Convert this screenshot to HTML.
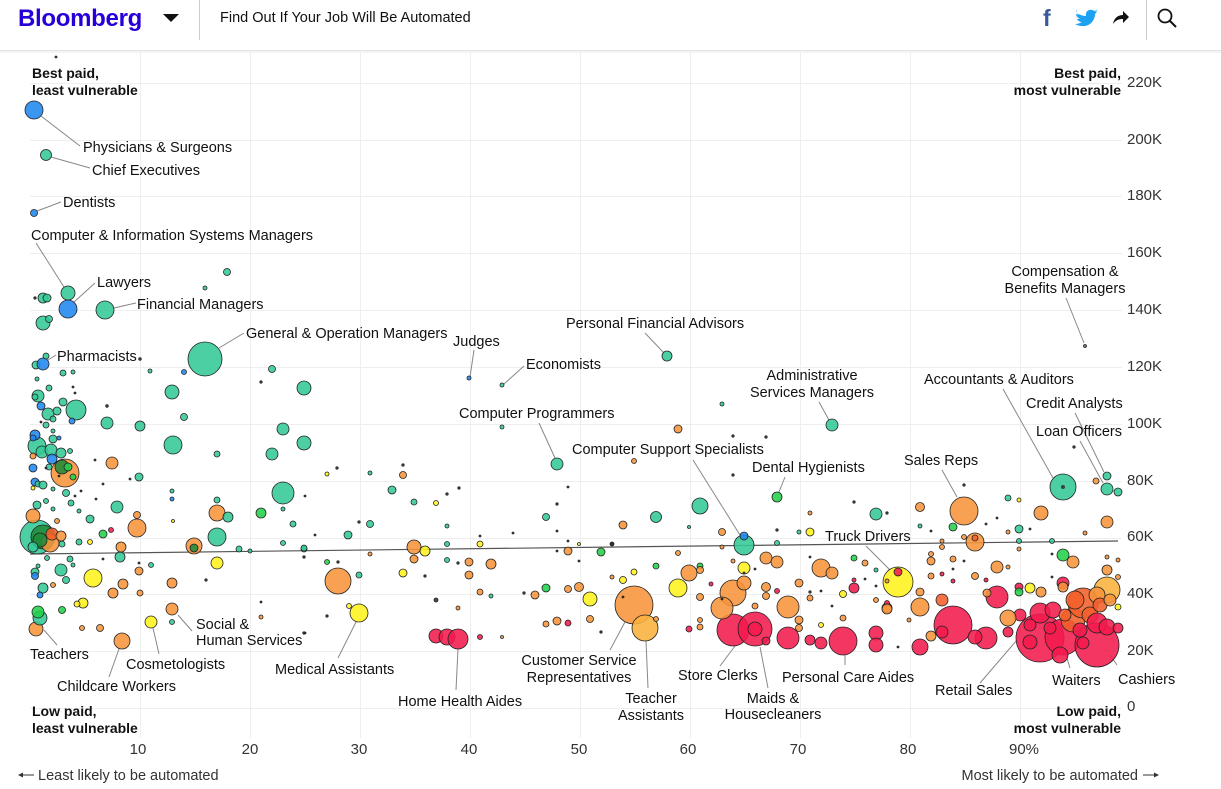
<!DOCTYPE html>
<html><head><meta charset="utf-8"><style>
html,body{margin:0;padding:0;background:#fff;width:1221px;height:789px;overflow:hidden;font-family:"Liberation Sans",sans-serif}
svg{position:absolute;left:0;top:0}
circle{stroke:#222;stroke-width:.8;fill-opacity:.88}
.t{fill:#33c996}.o{fill:#f7943a}.r{fill:#f21a4d}.y{fill:#fff21c}.g{fill:#22d04a}.b{fill:#1f87ee}.lo{fill:#fbb23c}.dg{fill:#1f8a3a}.ro{fill:#f2602a}
.d{fill:#333;stroke:none}
.lab{font-size:14.5px;fill:#111}
.bl{font-size:14px;font-weight:bold;fill:#111}
.ax{font-size:15px;fill:#333}
.ld{stroke:#888;stroke-width:1}
.gr{stroke:#eee;stroke-width:1}
</style></head><body>
<svg width="1221" height="789" viewBox="0 0 1221 789" xmlns="http://www.w3.org/2000/svg">
<!-- header -->
<text x="18" y="26" style="font-size:24px;font-weight:bold;fill:#2800d7;letter-spacing:-0.3px">Bloomberg</text>
<polygon points="163,14 179,14 171,22" fill="#111"/>
<line x1="199.5" y1="0" x2="199.5" y2="40" stroke="#ccc"/>
<text x="220" y="22" style="font-size:14.5px;fill:#111">Find Out If Your Job Will Be Automated</text>
<text x="1043" y="26" style="font-size:23px;font-weight:bold;fill:#3b5998">f</text>
<path d="M1077,13 c3,2 6,3 9,3 c-1,-5 4,-8 8,-5 c1,0 3,-1 4,-2 c-1,1 -1,2 -3,3 c1,0 2,0 3,-1 c-1,1 -2,2 -3,3 c0,7 -6,13 -13,12 c-3,0 -5,-1 -7,-2 c3,0 5,-1 7,-2 c-2,0 -4,-1 -5,-3 c1,0 2,0 3,0 c-2,-1 -4,-3 -4,-5 c1,0 2,1 3,1 c-2,-1 -3,-4 -2,-6z" fill="#1da1f2"/>
<path d="M1113,24 c1,-6 5,-9 10,-9 l0,-4 l6,6 l-6,6 l0,-4 c-4,0 -7,1 -10,5z" fill="#111"/>
<line x1="1146.5" y1="0" x2="1146.5" y2="40" stroke="#ccc"/>
<circle cx="1165" cy="16" r="6.5" style="fill:none;stroke:#111;stroke-width:1.8;fill-opacity:1"/>
<line x1="1170" y1="21" x2="1176" y2="27" stroke="#111" stroke-width="2"/>
<rect x="0" y="50" width="1221" height="1" fill="#e3e3e3"/>
<rect x="0" y="51" width="1221" height="2" fill="#f4f4f4"/>
<!-- grid -->
<g class="gr">
<line x1="140.5" y1="53" x2="140.5" y2="738"/><line x1="250.5" y1="53" x2="250.5" y2="738"/><line x1="360.5" y1="53" x2="360.5" y2="738"/><line x1="470.5" y1="53" x2="470.5" y2="738"/><line x1="580.5" y1="53" x2="580.5" y2="738"/><line x1="690.5" y1="53" x2="690.5" y2="738"/><line x1="800.5" y1="53" x2="800.5" y2="738"/><line x1="910.5" y1="53" x2="910.5" y2="738"/><line x1="1020.5" y1="53" x2="1020.5" y2="738"/>
<line x1="30" y1="83.5" x2="1122" y2="83.5"/><line x1="30" y1="140.5" x2="1122" y2="140.5"/><line x1="30" y1="196.5" x2="1122" y2="196.5"/><line x1="30" y1="253.5" x2="1122" y2="253.5"/><line x1="30" y1="310.5" x2="1122" y2="310.5"/><line x1="30" y1="367.5" x2="1122" y2="367.5"/><line x1="30" y1="424.5" x2="1122" y2="424.5"/><line x1="30" y1="481.5" x2="1122" y2="481.5"/><line x1="30" y1="538.5" x2="1122" y2="538.5"/><line x1="30" y1="594.5" x2="1122" y2="594.5"/><line x1="30" y1="651.5" x2="1122" y2="651.5"/><line x1="30" y1="708.5" x2="1122" y2="708.5"/>
</g>
<!-- axis labels -->
<g class="ax">
<text x="1127" y="87">220K</text><text x="1127" y="144">200K</text><text x="1127" y="200">180K</text><text x="1127" y="257">160K</text><text x="1127" y="314">140K</text><text x="1127" y="371">120K</text><text x="1127" y="428">100K</text><text x="1127" y="485">80K</text><text x="1127" y="541">60K</text><text x="1127" y="598">40K</text><text x="1127" y="655">20K</text><text x="1127" y="711">0</text>
</g>
<g class="ax" text-anchor="middle">
<text x="138" y="754">10</text><text x="250" y="754">20</text><text x="359" y="754">30</text><text x="469" y="754">40</text><text x="579" y="754">50</text><text x="688" y="754">60</text><text x="798" y="754">70</text><text x="908" y="754">80</text><text x="1024" y="754">90%</text>
</g>
<line x1="19" y1="775" x2="34" y2="775" stroke="#333"/><polygon points="18,775 23,772.5 23,777.5" fill="#333"/>
<text x="38" y="780" style="font-size:14.5px;fill:#333">Least likely to be automated</text>
<text x="1138" y="780" text-anchor="end" style="font-size:14.5px;fill:#333">Most likely to be automated</text>
<line x1="1143" y1="775" x2="1157" y2="775" stroke="#333"/><polygon points="1159,775 1154,772.5 1154,777.5" fill="#333"/>
<!-- corner labels -->
<g class="bl">
<text x="32" y="78">Best paid,</text><text x="32" y="95">least vulnerable</text>
<text x="1121" y="78" text-anchor="end">Best paid,</text><text x="1121" y="95" text-anchor="end">most vulnerable</text>
<text x="32" y="716">Low paid,</text><text x="32" y="733">least vulnerable</text>
<text x="1121" y="716" text-anchor="end">Low paid,</text><text x="1121" y="733" text-anchor="end">most vulnerable</text>
</g>
<!-- trend line -->
<line x1="30" y1="554" x2="1118" y2="541" stroke="#555" stroke-width="1.2"/>
<!-- leaders -->
<g class="ld">
<line x1="41" y1="116" x2="80" y2="146"/><line x1="51" y1="157" x2="90" y2="168"/><line x1="37" y1="211" x2="61" y2="202"/><line x1="36" y1="243" x2="64" y2="287"/><line x1="74" y1="302" x2="95" y2="283"/><line x1="114" y1="308" x2="136" y2="303"/><line x1="219" y1="348" x2="244" y2="333"/><line x1="48" y1="360" x2="56" y2="355"/><line x1="474" y1="350" x2="470" y2="377"/><line x1="504" y1="384" x2="524" y2="366"/><line x1="645" y1="333" x2="664" y2="353"/><line x1="819" y1="402" x2="829" y2="420"/><line x1="539" y1="423" x2="555" y2="458"/><line x1="693" y1="460" x2="740" y2="535"/><line x1="785" y1="477" x2="779" y2="492"/><line x1="1066" y1="298" x2="1084" y2="343"/><line x1="1003" y1="389" x2="1053" y2="478"/><line x1="1075" y1="413" x2="1104" y2="472"/><line x1="1080" y1="441" x2="1103" y2="483"/><line x1="942" y1="470" x2="957" y2="497"/><line x1="866" y1="546" x2="890" y2="570"/><line x1="44" y1="630" x2="57" y2="645"/><line x1="119" y1="649" x2="109" y2="677"/><line x1="153" y1="628" x2="159" y2="654"/><line x1="178" y1="615" x2="192" y2="631"/><line x1="356" y1="622" x2="338" y2="658"/><line x1="458" y1="649" x2="456" y2="690"/><line x1="625" y1="622" x2="610" y2="650"/><line x1="646" y1="641" x2="648" y2="688"/><line x1="735" y1="646" x2="720" y2="666"/><line x1="760" y1="647" x2="768" y2="688"/><line x1="845" y1="655" x2="845" y2="665"/><line x1="980" y1="683" x2="1017" y2="640"/><line x1="1070" y1="668" x2="1065" y2="652"/><line x1="1117" y1="665" x2="1110" y2="655"/>
</g>
<!-- bubbles: large first -->
<circle class="t" cx="205" cy="359" r="17"/>
<circle class="o" cx="634" cy="605" r="19"/>
<circle class="lo" cx="645" cy="628" r="13"/>
<circle class="r" cx="733" cy="630" r="16"/>
<circle class="r" cx="755" cy="629" r="17"/>
<circle class="r" cx="755" cy="629" r="7"/>
<circle class="r" cx="843" cy="641" r="14"/>
<circle class="r" cx="788" cy="638" r="11"/>
<circle class="y" cx="898" cy="582" r="15"/>
<circle class="r" cx="898" cy="572" r="4"/>
<circle class="o" cx="338" cy="581" r="13"/>
<circle class="y" cx="359" cy="613" r="9"/>
<circle class="o" cx="733" cy="593" r="13"/>
<circle class="o" cx="722" cy="608" r="11"/>
<circle class="o" cx="788" cy="607" r="11"/>
<circle class="o" cx="964" cy="511" r="14"/>
<circle class="t" cx="1063" cy="487" r="13"/>
<circle class="d" cx="1063" cy="487" r="2"/>
<circle class="t" cx="744" cy="545" r="10"/>
<circle class="b" cx="744" cy="536" r="4"/>
<circle class="o" cx="65" cy="473" r="14"/>
<circle class="dg" cx="62" cy="467" r="7"/>
<circle class="g" cx="68" cy="467" r="4"/>
<circle class="g" cx="73" cy="477" r="3"/>
<circle class="t" cx="37" cy="537" r="17"/>
<circle class="dg" cx="43" cy="537" r="12"/>
<circle class="o" cx="50" cy="543" r="9"/>
<circle class="ro" cx="52" cy="534" r="6"/>
<circle class="dg" cx="40" cy="540" r="7"/>
<circle class="o" cx="33" cy="516" r="7"/>
<circle class="o" cx="61" cy="536" r="5"/>
<circle class="t" cx="33" cy="547" r="5"/>
<circle class="t" cx="283" cy="493" r="11"/>
<circle class="t" cx="76" cy="410" r="10"/>
<!-- right cluster -->
<circle class="r" cx="953" cy="625" r="19"/>
<circle class="r" cx="997" cy="597" r="11"/>
<circle class="r" cx="986" cy="638" r="11"/>
<circle class="r" cx="975" cy="637" r="7"/>
<circle class="r" cx="1040" cy="638" r="24"/>
<circle class="r" cx="1063" cy="637" r="18"/>
<circle class="r" cx="1097" cy="645" r="22"/>
<circle class="r" cx="1030" cy="642" r="7"/>
<circle class="r" cx="1060" cy="655" r="8"/>
<circle class="r" cx="1083" cy="643" r="6"/>
<circle class="r" cx="1040" cy="613" r="10"/>
<circle class="r" cx="1053" cy="610" r="8"/>
<circle class="r" cx="1020" cy="615" r="6"/>
<circle class="r" cx="1030" cy="625" r="6"/>
<circle class="r" cx="1050" cy="628" r="6"/>
<circle class="ro" cx="1073" cy="620" r="12"/>
<circle class="lo" cx="1107" cy="590" r="13"/>
<circle class="ro" cx="1083" cy="603" r="15"/>
<circle class="o" cx="1097" cy="595" r="8"/>
<circle class="ro" cx="1075" cy="600" r="9"/>
<circle class="ro" cx="1090" cy="615" r="8"/>
<circle class="ro" cx="1100" cy="605" r="7"/>
<circle class="o" cx="1110" cy="600" r="6"/>
<circle class="r" cx="1080" cy="630" r="7"/>
<circle class="ro" cx="1065" cy="615" r="6"/>
<circle class="r" cx="1097" cy="623" r="10"/>
<circle class="r" cx="1107" cy="627" r="8"/>
<circle class="r" cx="1118" cy="628" r="5"/>
<circle class="y" cx="1118" cy="607" r="3"/>
<circle class="r" cx="942" cy="632" r="6"/>
<circle class="o" cx="931" cy="636" r="5"/>
<circle class="r" cx="920" cy="647" r="8"/>
<circle class="r" cx="1008" cy="632" r="5"/>
<circle class="o" cx="1008" cy="618" r="8"/>
<circle class="o" cx="987" cy="593" r="4"/>
<circle class="r" cx="1019" cy="587" r="4"/>
<circle class="g" cx="1019" cy="592" r="4"/>
<circle class="y" cx="1030" cy="588" r="5"/>
<circle class="o" cx="1041" cy="592" r="5"/>
<circle class="r" cx="1063" cy="583" r="6"/>
<circle class="o" cx="1063" cy="587" r="5"/>
<circle class="o" cx="920" cy="607" r="9"/>
<circle class="o" cx="920" cy="592" r="4"/>
<circle class="ro" cx="942" cy="600" r="6"/>
<circle class="o" cx="887" cy="608" r="5"/>
<circle class="r" cx="876" cy="633" r="7"/>
<circle class="r" cx="876" cy="645" r="7"/>
<!-- right middle -->
<circle class="o" cx="975" cy="542" r="9"/>
<circle class="ro" cx="975" cy="538" r="3"/>
<circle class="o" cx="1041" cy="513" r="7"/>
<circle class="o" cx="1107" cy="522" r="6"/>
<circle class="o" cx="920" cy="507" r="4.5"/>
<circle class="t" cx="1008" cy="498" r="3"/>
<circle class="y" cx="1019" cy="500" r="2"/>
<circle class="t" cx="1107" cy="476" r="4"/>
<circle class="t" cx="1107" cy="489" r="6"/>
<circle class="t" cx="1118" cy="492" r="4"/>
<circle class="o" cx="1096" cy="481" r="3"/>
<circle class="t" cx="920" cy="526" r="2"/>
<circle class="g" cx="953" cy="527" r="4"/>
<circle class="t" cx="1019" cy="529" r="4"/>
<circle class="o" cx="1008" cy="532" r="2"/>
<circle class="o" cx="1085" cy="533" r="2"/>
<circle class="o" cx="964" cy="537" r="2.5"/>
<circle class="o" cx="942" cy="541" r="2"/>
<circle class="o" cx="942" cy="547" r="2.5"/>
<circle class="t" cx="1019" cy="541" r="2.5"/>
<circle class="t" cx="1052" cy="541" r="2.5"/>
<circle class="o" cx="1019" cy="549" r="2"/>
<circle class="g" cx="1063" cy="555" r="6"/>
<circle class="o" cx="1073" cy="562" r="6"/>
<circle class="o" cx="1107" cy="557" r="2"/>
<circle class="o" cx="1118" cy="560" r="2"/>
<circle class="o" cx="931" cy="554" r="2.5"/>
<circle class="o" cx="931" cy="561" r="4"/>
<circle class="o" cx="953" cy="559" r="3"/>
<circle class="o" cx="997" cy="567" r="6"/>
<circle class="o" cx="1008" cy="567" r="2"/>
<circle class="o" cx="1107" cy="570" r="5"/>
<circle class="o" cx="1118" cy="577" r="2.5"/>
<circle class="o" cx="887" cy="581" r="2"/>
<circle class="o" cx="931" cy="576" r="3"/>
<circle class="r" cx="942" cy="574" r="2"/>
<circle class="r" cx="953" cy="581" r="2"/>
<circle class="o" cx="975" cy="576" r="3.5"/>
<circle class="r" cx="986" cy="580" r="2"/>
<circle class="o" cx="909" cy="620" r="2"/>
<!-- middle right -->
<circle class="t" cx="832" cy="425" r="6"/>
<circle class="t" cx="667" cy="356" r="5"/>
<circle class="t" cx="722" cy="404" r="2"/>
<circle class="o" cx="678" cy="429" r="4"/>
<circle class="o" cx="634" cy="461" r="2.5"/>
<circle class="g" cx="777" cy="497" r="5"/>
<circle class="t" cx="700" cy="506" r="8"/>
<circle class="t" cx="656" cy="517" r="5.5"/>
<circle class="o" cx="623" cy="525" r="4"/>
<circle class="t" cx="689" cy="527" r="1.5"/>
<circle class="o" cx="722" cy="532" r="3.5"/>
<circle class="t" cx="777" cy="543" r="2.5"/>
<circle class="t" cx="799" cy="532" r="2"/>
<circle class="y" cx="810" cy="532" r="4"/>
<circle class="o" cx="810" cy="513" r="2"/>
<circle class="t" cx="876" cy="514" r="6"/>
<circle class="o" cx="722" cy="547" r="2"/>
<circle class="o" cx="733" cy="561" r="2"/>
<circle class="o" cx="766" cy="558" r="6"/>
<circle class="o" cx="777" cy="562" r="6"/>
<circle class="y" cx="744" cy="568" r="6"/>
<circle class="o" cx="821" cy="568" r="9"/>
<circle class="o" cx="832" cy="573" r="6"/>
<circle class="g" cx="854" cy="558" r="3"/>
<circle class="o" cx="865" cy="563" r="3"/>
<circle class="t" cx="876" cy="570" r="2"/>
<circle class="o" cx="689" cy="573" r="8"/>
<circle class="g" cx="700" cy="566" r="3"/>
<circle class="o" cx="700" cy="570" r="3.5"/>
<circle class="o" cx="678" cy="553" r="2.5"/>
<circle class="g" cx="656" cy="566" r="3"/>
<circle class="y" cx="634" cy="572" r="3"/>
<circle class="y" cx="623" cy="580" r="3.5"/>
<circle class="o" cx="612" cy="577" r="2"/>
<circle class="y" cx="678" cy="588" r="9"/>
<circle class="o" cx="656" cy="619" r="2.5"/>
<circle class="r" cx="689" cy="629" r="3"/>
<circle class="o" cx="700" cy="620" r="2.5"/>
<circle class="o" cx="700" cy="627" r="3"/>
<circle class="o" cx="700" cy="597" r="3.5"/>
<circle class="r" cx="711" cy="584" r="2"/>
<circle class="o" cx="744" cy="583" r="7"/>
<circle class="o" cx="766" cy="587" r="4.5"/>
<circle class="o" cx="766" cy="596" r="3.5"/>
<circle class="r" cx="777" cy="591" r="2.5"/>
<circle class="o" cx="755" cy="606" r="3"/>
<circle class="o" cx="799" cy="583" r="4"/>
<circle class="o" cx="799" cy="620" r="4"/>
<circle class="o" cx="799" cy="628" r="3.5"/>
<circle class="o" cx="810" cy="598" r="3"/>
<circle class="y" cx="821" cy="625" r="2.5"/>
<circle class="y" cx="843" cy="594" r="3.5"/>
<circle class="o" cx="843" cy="618" r="3"/>
<circle class="r" cx="854" cy="588" r="5"/>
<circle class="r" cx="854" cy="580" r="2"/>
<circle class="o" cx="876" cy="600" r="2.5"/>
<circle class="r" cx="887" cy="603" r="2.5"/>
<circle class="o" cx="887" cy="609" r="5"/>
<circle class="r" cx="766" cy="641" r="4"/>
<circle class="r" cx="810" cy="640" r="5"/>
<circle class="r" cx="821" cy="643" r="6"/>
<!-- middle -->
<circle class="t" cx="557" cy="464" r="6"/>
<circle class="t" cx="546" cy="517" r="3.5"/>
<circle class="o" cx="568" cy="551" r="4"/>
<circle class="y" cx="579" cy="544" r="1.5"/>
<circle class="g" cx="601" cy="552" r="4"/>
<circle class="o" cx="612" cy="544" r="2"/>
<circle class="g" cx="546" cy="588" r="4"/>
<circle class="o" cx="535" cy="595" r="4"/>
<circle class="o" cx="568" cy="589" r="3.5"/>
<circle class="o" cx="579" cy="587" r="4.5"/>
<circle class="y" cx="590" cy="599" r="7"/>
<circle class="o" cx="546" cy="624" r="3"/>
<circle class="o" cx="557" cy="621" r="4"/>
<circle class="r" cx="568" cy="623" r="3"/>
<circle class="o" cx="590" cy="619" r="3.5"/>
<circle class="o" cx="469" cy="562" r="4"/>
<circle class="o" cx="491" cy="564" r="5"/>
<circle class="y" cx="480" cy="544" r="3"/>
<circle class="o" cx="469" cy="575" r="4"/>
<circle class="o" cx="480" cy="592" r="3"/>
<circle class="t" cx="491" cy="596" r="2"/>
<circle class="o" cx="458" cy="608" r="2"/>
<circle class="r" cx="436" cy="636" r="7"/>
<circle class="r" cx="447" cy="637" r="8"/>
<circle class="r" cx="458" cy="639" r="10"/>
<circle class="r" cx="480" cy="637" r="2.5"/>
<circle class="o" cx="502" cy="637" r="1.5"/>
<circle class="o" cx="414" cy="547" r="7"/>
<circle class="y" cx="425" cy="551" r="5"/>
<circle class="o" cx="414" cy="559" r="4"/>
<circle class="t" cx="447" cy="526" r="2"/>
<circle class="t" cx="447" cy="544" r="2.5"/>
<circle class="t" cx="447" cy="560" r="2.5"/>
<circle class="g" cx="327" cy="562" r="2.5"/>
<circle class="o" cx="370" cy="554" r="2"/>
<circle class="t" cx="359" cy="575" r="3"/>
<circle class="y" cx="403" cy="573" r="4"/>
<circle class="y" cx="349" cy="606" r="2.5"/>
<circle class="y" cx="327" cy="474" r="2"/>
<circle class="t" cx="370" cy="473" r="2"/>
<circle class="o" cx="403" cy="475" r="3.5"/>
<circle class="t" cx="392" cy="490" r="4"/>
<circle class="t" cx="414" cy="502" r="3"/>
<circle class="y" cx="436" cy="503" r="2.5"/>
<circle class="t" cx="370" cy="524" r="3.5"/>
<circle class="t" cx="348" cy="535" r="4"/>
<circle class="t" cx="304" cy="549" r="3"/>
<circle class="b" cx="469" cy="378" r="2"/>
<circle class="t" cx="502" cy="385" r="2"/>
<circle class="t" cx="502" cy="427" r="2"/>
<!-- left area -->
<circle class="t" cx="283" cy="429" r="6"/>
<circle class="t" cx="272" cy="454" r="6"/>
<circle class="t" cx="304" cy="443" r="7"/>
<circle class="t" cx="304" cy="388" r="7"/>
<circle class="t" cx="272" cy="369" r="3.5"/>
<circle class="t" cx="293" cy="524" r="3"/>
<circle class="t" cx="283" cy="509" r="2"/>
<circle class="g" cx="261" cy="513" r="5"/>
<circle class="t" cx="283" cy="543" r="2.5"/>
<circle class="t" cx="304" cy="548" r="3"/>
<circle class="t" cx="239" cy="549" r="3"/>
<circle class="t" cx="250" cy="551" r="2"/>
<circle class="y" cx="217" cy="563" r="6"/>
<circle class="o" cx="217" cy="513" r="8"/>
<circle class="t" cx="228" cy="517" r="5"/>
<circle class="t" cx="217" cy="500" r="3"/>
<circle class="t" cx="217" cy="537" r="9"/>
<circle class="o" cx="194" cy="546" r="8"/>
<circle class="dg" cx="194" cy="548" r="4"/>
<circle class="t" cx="217" cy="454" r="3"/>
<circle class="t" cx="173" cy="445" r="9"/>
<circle class="t" cx="172" cy="392" r="7"/>
<circle class="t" cx="184" cy="417" r="3.5"/>
<circle class="t" cx="150" cy="371" r="2"/>
<circle class="b" cx="184" cy="372" r="2.5"/>
<circle class="t" cx="172" cy="491" r="2"/>
<circle class="b" cx="172" cy="499" r="2"/>
<circle class="y" cx="173" cy="521" r="1.5"/>
<circle class="o" cx="137" cy="528" r="9"/>
<circle class="o" cx="137" cy="515" r="3.5"/>
<circle class="t" cx="117" cy="507" r="6"/>
<circle class="t" cx="90" cy="519" r="4"/>
<circle class="g" cx="103" cy="534" r="4"/>
<circle class="r" cx="111" cy="530" r="2.5"/>
<circle class="t" cx="79" cy="542" r="3"/>
<circle class="y" cx="90" cy="542" r="2.5"/>
<circle class="t" cx="62" cy="544" r="3"/>
<circle class="o" cx="121" cy="547" r="5"/>
<circle class="t" cx="120" cy="557" r="5"/>
<circle class="t" cx="151" cy="565" r="2.5"/>
<circle class="o" cx="139" cy="571" r="4"/>
<circle class="o" cx="140" cy="593" r="3"/>
<circle class="o" cx="172" cy="583" r="5"/>
<circle class="y" cx="93" cy="578" r="9"/>
<circle class="y" cx="83" cy="603" r="5"/>
<circle class="y" cx="77" cy="604" r="3"/>
<circle class="o" cx="123" cy="584" r="5"/>
<circle class="o" cx="113" cy="593" r="5"/>
<circle class="t" cx="61" cy="570" r="6"/>
<circle class="t" cx="66" cy="580" r="3.5"/>
<circle class="t" cx="47" cy="558" r="2.5"/>
<circle class="t" cx="70" cy="559" r="3"/>
<circle class="t" cx="73" cy="565" r="2"/>
<circle class="t" cx="38" cy="566" r="2"/>
<circle class="t" cx="35" cy="572" r="4"/>
<circle class="b" cx="35" cy="576" r="3.5"/>
<circle class="t" cx="43" cy="588" r="5"/>
<circle class="b" cx="40" cy="595" r="3"/>
<circle class="o" cx="53" cy="585" r="2.5"/>
<circle class="g" cx="62" cy="610" r="3.5"/>
<circle class="o" cx="36" cy="629" r="7"/>
<circle class="t" cx="40" cy="618" r="7"/>
<circle class="g" cx="38" cy="612" r="6"/>
<circle class="o" cx="82" cy="628" r="2.5"/>
<circle class="o" cx="100" cy="628" r="3.5"/>
<circle class="o" cx="122" cy="641" r="8"/>
<circle class="y" cx="151" cy="622" r="6"/>
<circle class="o" cx="172" cy="609" r="6"/>
<circle class="t" cx="172" cy="622" r="2.5"/>
<circle class="o" cx="261" cy="617" r="2"/>
<circle class="o" cx="112" cy="463" r="6"/>
<circle class="t" cx="139" cy="477" r="4"/>
<circle class="b" cx="33" cy="468" r="4"/>
<circle class="b" cx="35" cy="482" r="4"/>
<circle class="t" cx="38" cy="484" r="3"/>
<circle class="t" cx="43" cy="485" r="4"/>
<circle class="y" cx="33" cy="488" r="2"/>
<circle class="t" cx="53" cy="489" r="2"/>
<circle class="t" cx="66" cy="493" r="3.5"/>
<circle class="t" cx="71" cy="503" r="3"/>
<circle class="t" cx="46" cy="501" r="2.5"/>
<circle class="t" cx="37" cy="505" r="4"/>
<circle class="t" cx="53" cy="509" r="2"/>
<circle class="t" cx="79" cy="511" r="2"/>
<circle class="o" cx="57" cy="521" r="2.5"/>
<circle class="t" cx="37" cy="446" r="9"/>
<circle class="t" cx="42" cy="452" r="6"/>
<circle class="t" cx="51" cy="450" r="6"/>
<circle class="t" cx="53" cy="439" r="4"/>
<circle class="t" cx="61" cy="453" r="5"/>
<circle class="t" cx="70" cy="451" r="2.5"/>
<circle class="t" cx="53" cy="431" r="2"/>
<circle class="b" cx="59" cy="438" r="2"/>
<circle class="b" cx="52" cy="459" r="5"/>
<circle class="o" cx="33" cy="456" r="3"/>
<circle class="t" cx="49" cy="467" r="3"/>
<circle class="b" cx="35" cy="435" r="5"/>
<circle class="b" cx="33" cy="438" r="3"/>
<circle class="t" cx="38" cy="396" r="6"/>
<circle class="t" cx="35" cy="397" r="3"/>
<circle class="t" cx="63" cy="402" r="4"/>
<circle class="b" cx="72" cy="421" r="3"/>
<circle class="b" cx="41" cy="406" r="4"/>
<circle class="t" cx="48" cy="414" r="6"/>
<circle class="t" cx="57" cy="411" r="4"/>
<circle class="t" cx="53" cy="419" r="3"/>
<circle class="t" cx="46" cy="425" r="3"/>
<circle class="t" cx="107" cy="423" r="6"/>
<circle class="t" cx="140" cy="426" r="5"/>
<circle class="t" cx="63" cy="373" r="3"/>
<circle class="t" cx="73" cy="372" r="2"/>
<circle class="t" cx="37" cy="379" r="2"/>
<circle class="t" cx="49" cy="388" r="3"/>
<!-- top left -->
<circle class="b" cx="34" cy="110" r="9"/>
<circle class="t" cx="46" cy="155" r="5.5"/>
<circle class="b" cx="34" cy="213" r="3.5"/>
<circle class="t" cx="68" cy="293" r="7"/>
<circle class="b" cx="68" cy="309" r="9"/>
<circle class="t" cx="105" cy="310" r="9"/>
<circle class="t" cx="43" cy="298" r="5"/>
<circle class="t" cx="47" cy="298" r="4"/>
<circle class="t" cx="43" cy="323" r="7"/>
<circle class="t" cx="49" cy="319" r="3.5"/>
<circle class="t" cx="227" cy="272" r="3.5"/>
<circle class="t" cx="205" cy="288" r="2"/>
<circle class="t" cx="36" cy="365" r="4"/>
<circle class="b" cx="43" cy="364" r="6"/>
<circle class="t" cx="46" cy="356" r="3"/>
<circle class="t" cx="1085" cy="346" r="1.5" style="fill:#666"/>
<!-- dots -->
<g class="d">
<circle cx="56" cy="57" r="1"/><circle cx="35" cy="298" r="1.2"/><circle cx="140" cy="359" r="1.3"/><circle cx="261" cy="382" r="1.2"/><circle cx="73" cy="387" r="1"/><circle cx="75" cy="393" r="1"/><circle cx="107" cy="406" r="1.3"/><circle cx="41" cy="422" r="1"/><circle cx="95" cy="460" r="1"/><circle cx="59" cy="476" r="1"/><circle cx="46" cy="468" r="1"/><circle cx="81" cy="491" r="1"/><circle cx="75" cy="496" r="1"/><circle cx="96" cy="499" r="1"/><circle cx="103" cy="484" r="1"/><circle cx="130" cy="479" r="1"/><circle cx="103" cy="559" r="1"/><circle cx="139" cy="563" r="1"/><circle cx="206" cy="580" r="1.2"/><circle cx="261" cy="602" r="1"/><circle cx="304" cy="633" r="1.2"/><circle cx="304" cy="557" r="1.2"/><circle cx="337" cy="468" r="1.2"/><circle cx="403" cy="465" r="1.2"/><circle cx="447" cy="494" r="1.2"/><circle cx="459" cy="488" r="1.2"/><circle cx="359" cy="522" r="1.2"/><circle cx="315" cy="535" r="1"/><circle cx="305" cy="496" r="1"/><circle cx="338" cy="562" r="1.2"/><circle cx="425" cy="576" r="1.2"/><circle cx="327" cy="616" r="1.2"/><circle cx="305" cy="633" r="1"/><circle cx="458" cy="563" r="1.2"/><circle cx="480" cy="536" r="1"/><circle cx="436" cy="600" r="2"/><circle cx="568" cy="487" r="1"/><circle cx="557" cy="504" r="1.2"/><circle cx="557" cy="531" r="1"/><circle cx="513" cy="533" r="1"/><circle cx="568" cy="541" r="1"/><circle cx="557" cy="551" r="1"/><circle cx="579" cy="561" r="1"/><circle cx="612" cy="544" r="1.2"/><circle cx="524" cy="593" r="1.2"/><circle cx="601" cy="632" r="1.2"/><circle cx="733" cy="436" r="1.2"/><circle cx="766" cy="437" r="1.2"/><circle cx="733" cy="475" r="1.2"/><circle cx="777" cy="530" r="1.2"/><circle cx="854" cy="502" r="1.2"/><circle cx="887" cy="513" r="1.2"/><circle cx="755" cy="569" r="1"/><circle cx="744" cy="573" r="1"/><circle cx="810" cy="557" r="1"/><circle cx="722" cy="599" r="1"/><circle cx="810" cy="592" r="1.2"/><circle cx="821" cy="591" r="1"/><circle cx="832" cy="606" r="1"/><circle cx="865" cy="579" r="1"/><circle cx="876" cy="586" r="1"/><circle cx="623" cy="597" r="1"/><circle cx="964" cy="485" r="1.2"/><circle cx="1074" cy="447" r="1.2"/><circle cx="931" cy="531" r="1"/><circle cx="986" cy="524" r="1"/><circle cx="997" cy="518" r="1"/><circle cx="1030" cy="529" r="1"/><circle cx="1052" cy="554" r="1"/><circle cx="964" cy="561" r="1"/><circle cx="953" cy="569" r="1"/><circle cx="1052" cy="577" r="1"/><circle cx="898" cy="647" r="1"/>
</g>
<!-- labels -->
<g class="lab">
<text x="83" y="152">Physicians &amp; Surgeons</text>
<text x="92" y="175">Chief Executives</text>
<text x="63" y="207">Dentists</text>
<text x="31" y="240">Computer &amp; Information Systems Managers</text>
<text x="97" y="287">Lawyers</text>
<text x="137" y="309">Financial Managers</text>
<text x="246" y="338">General &amp; Operation Managers</text>
<text x="57" y="361">Pharmacists</text>
<text x="453" y="346">Judges</text>
<text x="526" y="369">Economists</text>
<text x="566" y="328">Personal Financial Advisors</text>
<text x="812" y="380" text-anchor="middle">Administrative</text>
<text x="812" y="397" text-anchor="middle">Services Managers</text>
<text x="459" y="418">Computer Programmers</text>
<text x="572" y="454">Computer Support Specialists</text>
<text x="752" y="472">Dental Hygienists</text>
<text x="1065" y="276" text-anchor="middle">Compensation &amp;</text>
<text x="1065" y="293" text-anchor="middle">Benefits Managers</text>
<text x="924" y="384">Accountants &amp; Auditors</text>
<text x="1026" y="408">Credit Analysts</text>
<text x="1036" y="436">Loan Officers</text>
<text x="904" y="465">Sales Reps</text>
<text x="825" y="541">Truck Drivers</text>
<text x="30" y="659">Teachers</text>
<text x="57" y="691">Childcare Workers</text>
<text x="126" y="669">Cosmetologists</text>
<text x="196" y="629">Social &amp;</text>
<text x="196" y="645">Human Services</text>
<text x="275" y="674">Medical Assistants</text>
<text x="398" y="706">Home Health Aides</text>
<text x="579" y="665" text-anchor="middle">Customer Service</text>
<text x="579" y="682" text-anchor="middle">Representatives</text>
<text x="651" y="703" text-anchor="middle">Teacher</text>
<text x="651" y="720" text-anchor="middle">Assistants</text>
<text x="678" y="680">Store Clerks</text>
<text x="773" y="703" text-anchor="middle">Maids &amp;</text>
<text x="773" y="719" text-anchor="middle">Housecleaners</text>
<text x="782" y="682">Personal Care Aides</text>
<text x="935" y="695">Retail Sales</text>
<text x="1052" y="685">Waiters</text>
<text x="1118" y="684">Cashiers</text>
</g>
</svg>
</body></html>
